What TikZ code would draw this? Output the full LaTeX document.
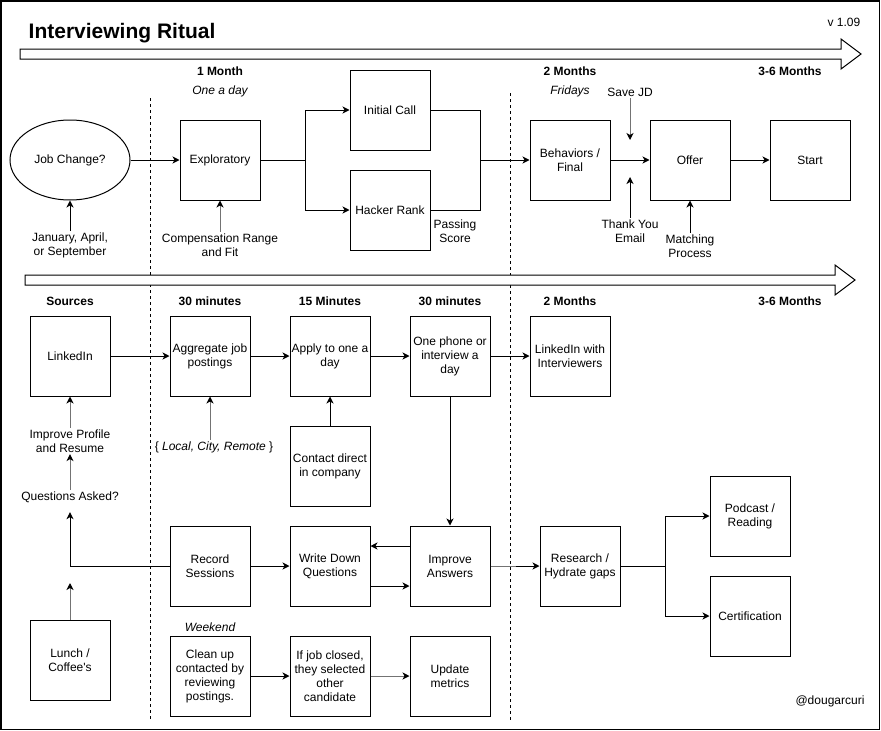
\documentclass[tikz,border=0pt]{standalone}
\usepackage{fontspec}
\setmainfont{Liberation Sans}
\usetikzlibrary{arrows.meta,shapes.geometric}
\begin{document}
\begin{tikzpicture}[x=1pt,y=-1pt,
  every node/.style={font=\fontsize{12}{14}\selectfont, inner sep=1.5pt},
  box/.style={draw, line width=1pt, minimum width=80pt, minimum height=80pt, inner sep=0pt, align=center},
  lbl/.style={align=center},
  hdr/.style={font=\bfseries\fontsize{12}{14}\selectfont},
  ital/.style={font=\itshape\fontsize{12}{14}\selectfont},
  conn/.style={line width=1pt},
  arr/.style={line width=1pt, -{Stealth[length=7pt,width=7pt,inset=2pt]}},
  garr/.style={line width=1pt, draw=black!55, -{Stealth[length=7pt,width=7pt,inset=2pt,black]}},
  divider/.style={line width=1pt, dash pattern=on 3pt off 3pt},
  timeline/.style={draw, fill=white, line width=1pt}]
\useasboundingbox (0,0) rectangle (881,731);
\draw[line width=1.5pt] (0.75,0.75) rectangle (879.5,729.5);

% dividers
\draw[divider] (150,98) -- (150,720);
\draw[divider] (510,93) -- (510,720);

% timelines
\draw[timeline] (20,49) -- (841,49) -- (841,39) -- (861,54) -- (841,69) -- (841,59) -- (20,59) -- cycle;
\draw[timeline] (25,275) -- (835,275) -- (835,265) -- (855,280) -- (835,295) -- (835,285) -- (25,285) -- cycle;

% title
\node[anchor=base west, font=\bfseries\fontsize{21}{24}\selectfont] (title) at (27,38) {Interviewing Ritual};
\node[anchor=base east] (ver) at (862,26) {v 1.09};

% top headers
\node[hdr] (h1) at (220,71) {1 Month};
\node[ital] (h1b) at (220,91) {One a day};
\node[hdr] (h2) at (570,71) {2 Months};
\node[ital] (h2b) at (570,91) {Fridays};
\node[hdr] (h3) at (790,71) {3-6 Months};

% top row
\node[draw, ellipse, line width=1pt, minimum width=120pt, minimum height=80pt, inner sep=0pt] (jc) at (70,160) {Job Change?};
\node[box] (ex) at (220,160) {Exploratory};
\node[box] (ic) at (390,110) {Initial Call};
\node[box] (hr) at (390,210) {Hacker Rank};
\node[box] (bf) at (570,160) {Behaviors /\\Final};
\node[box] (of) at (690,160) {Offer};
\node[box] (st) at (810,160) {Start};

\node[lbl] (jan) at (70,245) {January, April,\\or September};
\node[lbl] (comp) at (220,245) {Compensation Range\\and Fit};
\node[lbl] (pass) at (455,231) {Passing\\Score};
\node (sjd) at (630,92) {Save JD};
\node[lbl] (ty) at (630,231) {Thank You\\Email};
\node[lbl] (mp) at (690,246) {Matching\\Process};

\coordinate (s1) at (305,160);
\coordinate (s2) at (480,160);
\coordinate (sjt) at (630,140);
\coordinate (tyt) at (630,177);

\draw[arr] (jc) -- (ex);
\draw[conn] (ex) -- (s1);
\draw[arr] (s1) |- (ic);
\draw[arr] (s1) |- (hr);
\draw[conn] (ic) -| (s2);
\draw[conn] (hr) -| (s2);
\draw[arr] (s2) -- (bf);
\draw[arr] (bf) -- (of);
\draw[arr] (of) -- (st);
\draw[arr] (jan) -- (jc);
\draw[garr] (comp) -- (ex);
\draw[garr] (sjd) -- (sjt);
\draw[arr] (ty) -- (tyt);
\draw[arr] (mp) -- (of);

% bottom headers
\node[hdr] (b1) at (70,301) {Sources};
\node[hdr] (b2) at (210,301) {30 minutes};
\node[hdr] (b3) at (330,301) {15 Minutes};
\node[hdr] (b4) at (450,301) {30 minutes};
\node[hdr] (b5) at (570,301) {2 Months};
\node[hdr] (b6) at (790,301) {3-6 Months};

% bottom boxes
\node[box] (li) at (70,356) {LinkedIn};
\node[box] (ag) at (210,356) {Aggregate job\\postings};
\node[box] (ap) at (330,356) {Apply to one a\\day};
\node[box] (op) at (450,356) {One phone or\\interview a\\day};
\node[box] (lw) at (570,356) {LinkedIn with\\Interviewers};
\node[box] (cd) at (330,466) {Contact direct\\in company};
\node (loc) at (214,447) {\{ \textit{Local, City, Remote} \}};
\node[lbl] (ipr) at (70,441) {Improve Profile\\and Resume};
\node (qa) at (70,497) {Questions Asked?};

\node[box] (rs) at (210,566) {Record\\Sessions};
\node[box] (wd) at (330,566) {Write Down\\Questions};
\node[box] (ia) at (450,566) {Improve\\Answers};
\node[box] (rh) at (580,566) {Research /\\Hydrate gaps};
\node[box] (pr) at (750,516) {Podcast /\\Reading};
\node[box] (ce) at (750,616) {Certification};
\node[box] (lc) at (70,660) {Lunch /\\Coffee\textquotesingle s};

\node[ital] (wk) at (210,627) {Weekend};
\node[box] (cu) at (210,676) {Clean up\\contacted by\\reviewing\\postings.};
\node[box] (ij) at (330,676) {If job closed,\\they selected\\other\\candidate};
\node[box] (um) at (450,676) {Update\\metrics};
\node (dg) at (830,701) {@dougarcuri};

\coordinate (lct) at (70,583);
\coordinate (s3) at (665,566);

\draw[arr] (li) -- (ag);
\draw[arr] (ag) -- (ap);
\draw[arr] (ap) -- (op);
\draw[arr] (op) -- (lw);
\draw[garr] (ag.south |- loc.north) -- (ag.south);
\draw[arr] (cd) -- (ap);
\draw[arr] (op) -- (ia);
\draw[garr] (ipr) -- (li);
\draw[garr] (qa) -- (ipr);
\draw[arr, shorten >=8pt] (rs.west) -| (qa.south);
\draw[garr] (lc) -- (lct);
\draw[arr] (rs) -- (wd);
\draw[arr] ([yshift=20pt]ia.west) -- ([yshift=20pt]wd.east);
\draw[arr] ([yshift=-20pt]wd.east) -- ([yshift=-20pt]ia.west);
\draw[arr] (ia) -- (rh);
\draw[line width=1pt, black!55] (ia.east) -- ++(25,0);
\draw[conn] (rh) -- (s3);
\draw[arr] (s3) |- (pr);
\draw[arr] (s3) |- (ce);
\draw[arr] (cu) -- (ij);
\draw[garr] (ij) -- (um);
\end{tikzpicture}
\end{document}
